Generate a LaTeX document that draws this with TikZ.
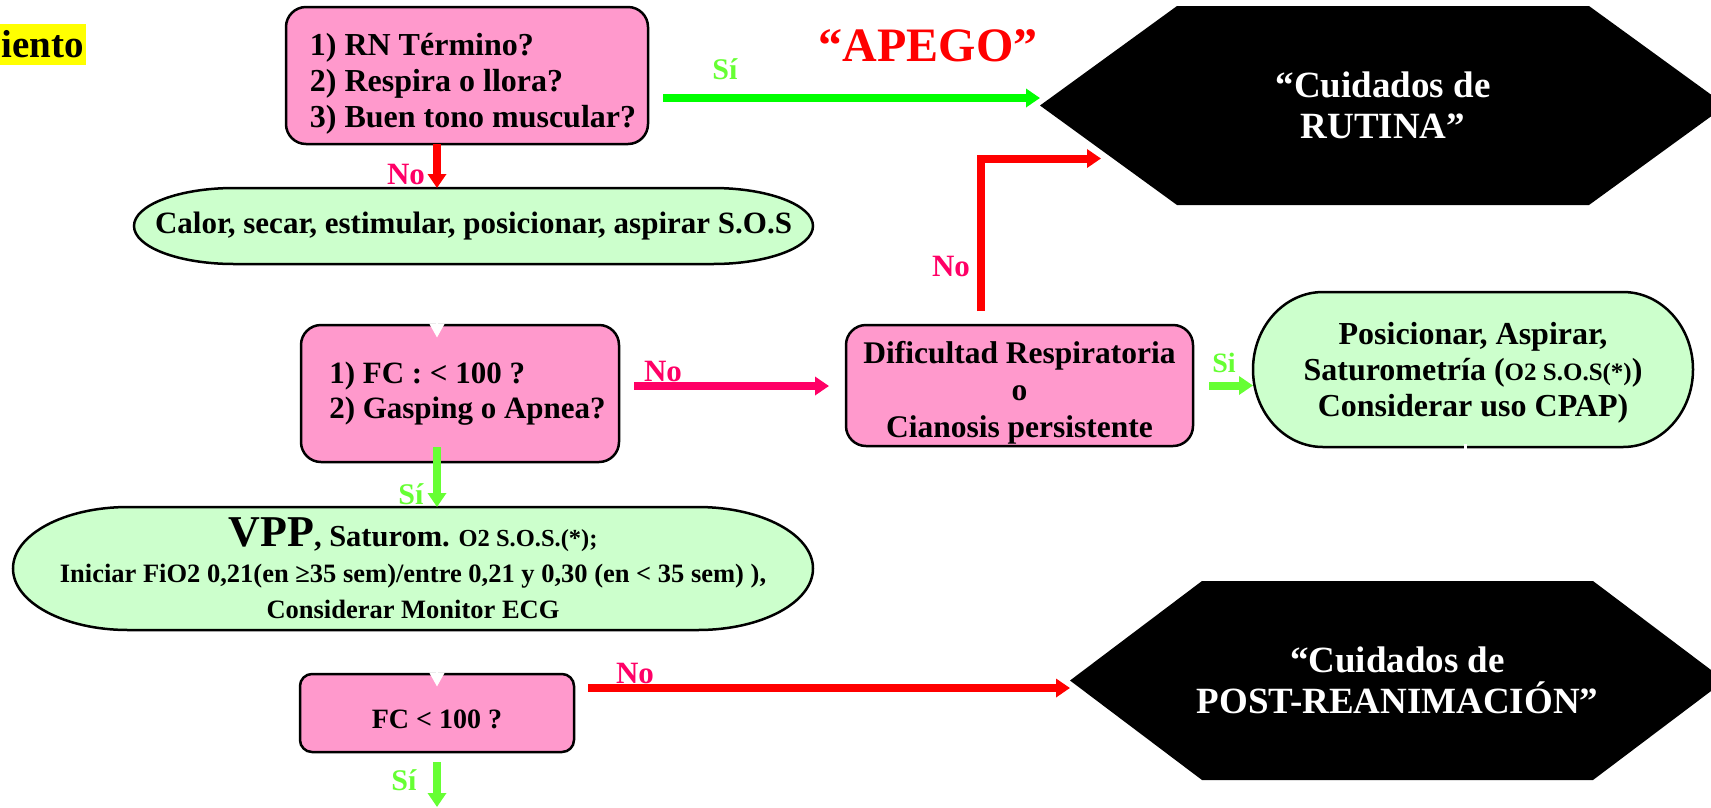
\documentclass[tikz,border=0pt]{standalone}
\usepackage{fontspec}
\setmainfont{Liberation Serif}
\usetikzlibrary{arrows.meta,backgrounds}

\definecolor{boxpink}{HTML}{FF99CC}
\definecolor{termgreen}{HTML}{CCFFCC}
\definecolor{yesgreen}{HTML}{66FF33}
\definecolor{brightgreen}{HTML}{00FF00}
\definecolor{nored}{HTML}{FF0066}
\definecolor{hiyellow}{HTML}{FFFF00}

\newcommand\fs[2]{\fontsize{#1}{#2}\selectfont}

% terminator outline with elliptic ends around a node: name, x radius, half height
\newcommand\termoutline[3]{%
  \path[termline] ([xshift=#2pt]#1.north west) -- ([xshift=-#2pt]#1.north east)
    .. controls ([xshift=-0.448*#2pt]#1.north east) and ([yshift=0.552*#3pt]#1.east) .. (#1.east)
    .. controls ([yshift=-0.552*#3pt]#1.east) and ([xshift=-0.448*#2pt]#1.south east) .. ([xshift=-#2pt]#1.south east)
    -- ([xshift=#2pt]#1.south west)
    .. controls ([xshift=0.448*#2pt]#1.south west) and ([yshift=-0.552*#3pt]#1.west) .. (#1.west)
    .. controls ([yshift=0.552*#3pt]#1.west) and ([xshift=0.448*#2pt]#1.north west) .. cycle;}

% black hexagon around a node: name, chamfer width
\newcommand\hexoutline[2]{%
  \path[fill=black] (#1.west) -- ([xshift=#2pt]#1.north west) -- ([xshift=-#2pt]#1.north east)
    -- (#1.east) -- ([xshift=-#2pt]#1.south east) -- ([xshift=#2pt]#1.south west) -- cycle;}

\tikzset{
  qbox/.style={draw=black, line width=2.5pt, fill=boxpink, rounded corners=20pt,
    inner sep=0pt, outer sep=0pt, align=left},
  termtext/.style={inner sep=0pt, outer sep=0pt, align=center},
  termline/.style={draw=black, line width=2.5pt, fill=termgreen},
  hextext/.style={inner sep=0pt, outer sep=0pt, align=center, text=white,
    font=\fs{37}{41}\bfseries},
  flow/.style={line width=8pt, -{Triangle[length=14pt,width=18pt]}},
  ghost/.style={white, line width=2pt, -{Triangle[length=14pt,width=15pt]}},
  yeslabel/.style={text=yesgreen, font=\fs{30}{30}\bfseries, inner sep=0pt},
  nolabel/.style={text=nored, font=\fs{31}{31}\bfseries, inner sep=0pt},
}

\begin{document}
\begin{tikzpicture}[x=1pt, y=-1pt]
\useasboundingbox (0,0) rectangle (1711,807);
\clip (0,0) rectangle (1711,807);
\coordinate (spine) at (437,0);

% heading fragment
\node[fill=hiyellow, inner xsep=2pt, inner ysep=0pt, minimum height=41pt, anchor=east,
  font=\fs{39}{39}\bfseries] (title) at (86,44) {iento};

% decision boxes
\node[qbox, minimum width=362pt, minimum height=137pt, font=\fs{32}{36}\bfseries] (q1) at (467,75.5)
  {\rule{0pt}{38pt}\hspace*{12pt}1) RN Término?\\ \hspace*{12pt}2) Respira o llora?\\ \hspace*{12pt}3) Buen tono muscular?};
\node[qbox, minimum width=318pt, minimum height=137pt, font=\fs{31}{35}\bfseries] (q2) at (460,393.5)
  {\hspace*{15pt}1) FC : < 100 ?\\ \hspace*{15pt}2) Gasping o Apnea?};
\node[qbox, align=center, minimum width=347pt, minimum height=121pt, font=\fs{31.5}{37}\bfseries] (dif) at (1019.5,385.5)
  {\rule{0pt}{10pt}\\[-10pt]Dificultad Respiratoria\\o\\Cianosis persistente};
\node[qbox, rounded corners=12pt, align=center, minimum width=274pt, minimum height=78pt,
  font=\fs{28}{28}\bfseries] (q3) at (437,713) {\rule{0pt}{31pt}FC < 100 ?};

% action terminators
\node[termtext, minimum width=679pt, minimum height=76pt, font=\fs{31}{36}\bfseries] (calor) at (473.5,226)
  {Calor, secar, estimular, posicionar, aspirar S.O.S};
\node[termtext, minimum width=440pt, minimum height=155pt, font=\fs{32}{36}\bfseries] (pos) at (1473,369.5)
  {\rule{0pt}{29pt}Posicionar, Aspirar,\\Saturometría ({\fs{25}{25}O2 S.O.S(*)})\\Considerar uso CPAP)};
\node[termtext, minimum width=800pt, minimum height=123pt, font=\fs{26.5}{36}\bfseries] (vpp) at (413,568.5)
  {{\fs{44}{44}VPP}{\fs{30.5}{30}, Saturom.} {\fs{24.5}{24}O2 S.O.S.(*);}\\
   Iniciar FiO2 0,21(en ≥35 sem)/entre 0,21 y 0,30 (en < 35 sem) ),\\
   Considerar Monitor ECG};

% care outcomes
\node[hextext, minimum width=686pt, minimum height=199pt] (hex1) at (1383,105.5) {“Cuidados de\\RUTINA”};
\node[hextext, minimum width=655pt, minimum height=199pt] (hex2) at (1397.5,680.5) {“Cuidados de\\POST-REANIMACIÓN”};

\node[text=red, font=\fs{48}{48}\bfseries, inner sep=0pt] (apego) at (928,46) {“APEGO”};

\begin{scope}[on background layer]
  \termoutline{calor}{100}{38}
  \termoutline{pos}{70}{77.5}
  \termoutline{vpp}{115}{61.5}
  \hexoutline{hex1}{137}
  \hexoutline{hex2}{132}
\end{scope}

% branch labels
\node[nolabel] (no1) at (406,174) {No};
\node[yeslabel] (si1) at (725,69) {Sí};
\node[nolabel] (no2) at (951,266) {No};
\node[nolabel] (no3) at (663,371) {No};
\node[yeslabel] (si2) at (411,494) {Sí};
\node[yeslabel, font=\fs{28}{28}\bfseries] (si3) at (1224,363) {Si};
\node[nolabel] (no4) at (635,673) {No};
\node[yeslabel] (si4) at (404,780) {Sí};

% connectors
\draw[flow, red] (q1.south -| spine) -- (calor.north -| spine);
\draw[flow, brightgreen, line width=7.5pt, shorten <=15pt]
  ([yshift=-22.5pt]q1.east) -- ([yshift=-22.5pt]q1.east -| hex1.west);
\draw[ghost, shorten <=3pt, shorten >=-12.5pt] (calor.south -| spine) -- (q2.north -| spine);
\draw[flow, nored, shorten <=15pt, shorten >=17pt]
  ([yshift=7.5pt]q2.east) -- ([yshift=7.5pt]q2.east -| dif.west);
\draw[flow, yesgreen, shorten <=16pt] (dif.east) -- (dif.east -| pos.west);
\draw[flow, red, shorten <=14pt]
  ([xshift=-38.5pt]dif.north) |- ([xshift=61pt,yshift=-53pt]hex1.west);
\draw[flow, yesgreen, shorten <=-15pt] (q2.south -| spine) -- (vpp.north -| spine);
\draw[ghost, shorten <=3pt, shorten >=-12.5pt] (vpp.south -| spine) -- (q3.north -| spine);
\draw[flow, red, shorten <=14pt]
  ([yshift=25pt]q3.east) -- ([yshift=25pt]q3.east -| hex2.west);
\coordinate (next) at (437,807);
\draw[flow, yesgreen, shorten <=10pt] (q3.south -| spine) -- (next);
\draw[white, line width=3pt] ([xshift=-8pt,yshift=3pt]pos.south) -- ([xshift=-8pt,yshift=-3pt]pos.south);
\end{tikzpicture}
\end{document}
